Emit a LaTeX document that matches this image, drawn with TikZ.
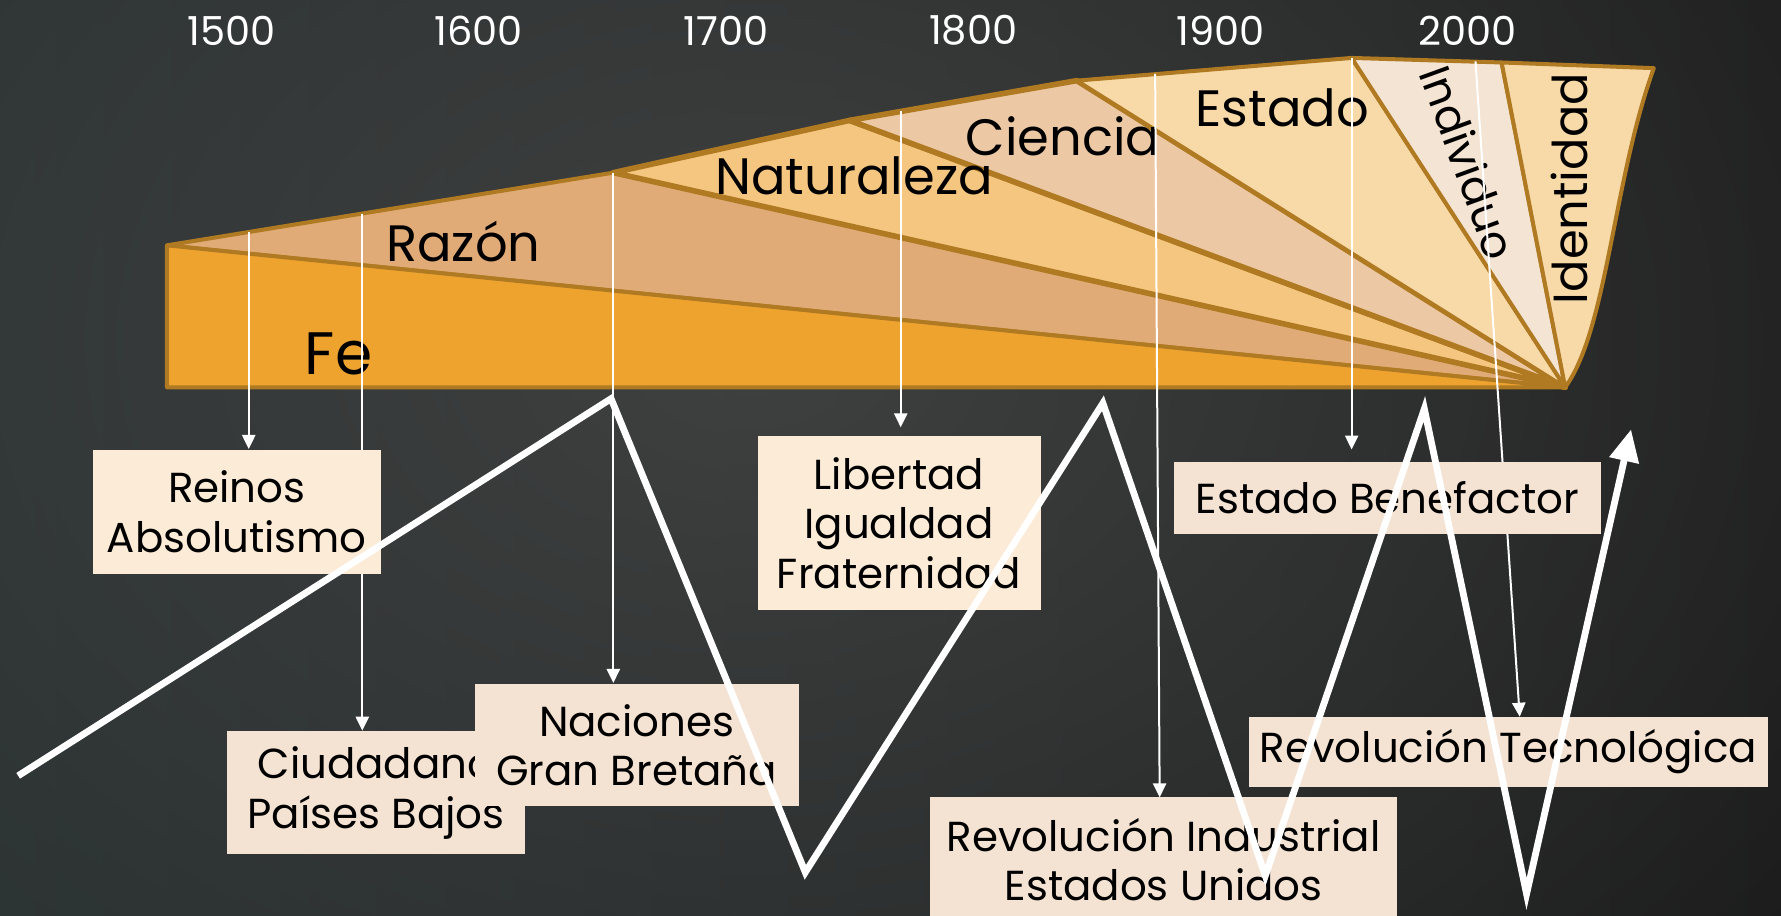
\documentclass[tikz,border=0pt]{standalone}
\usepackage{fontspec}
\setmainfont{Poppins}
\usetikzlibrary{arrows.meta,backgrounds,fadings}

\definecolor{bgleft}{HTML}{222C2C}
\definecolor{bgright}{HTML}{121212}
\definecolor{bglight}{HTML}{464646}
\definecolor{edgebrown}{HTML}{B07A22}
\definecolor{fecol}{HTML}{EFA32F}
\definecolor{razoncol}{HTML}{E1AB77}
\definecolor{natcol}{HTML}{F5C680}
\definecolor{ciencol}{HTML}{ECC9A4}
\definecolor{estcol}{HTML}{F8D9A8}
\definecolor{indcol}{HTML}{F4E4D3}
\definecolor{boxcream}{HTML}{FCEBD7}
\definecolor{boxpink}{HTML}{F4E3D3}

\tikzfading[name=glow, inner color=transparent!15, outer color=transparent!100]

\tikzset{
  band/.style={draw=edgebrown, line width=1pt, line join=round},
  bandtext/.style={inner sep=0pt, font=\fontsize{12.8}{15}\selectfont},
  yeartext/.style={inner sep=0pt, text=white, font=\fontsize{10}{12}\selectfont},
  eventbox/.style={fill=boxpink, inner sep=0pt, align=center, font=\fontsize{10.5}{12.4}\selectfont},
  pointer/.style={draw=white, line width=0.5pt, -{Triangle[length=3.5pt,width=3.3pt]}},
  trend/.style={draw=white, line width=1.7pt, -{Triangle[length=8pt,width=7.2pt]}}
}

\begin{document}
\begin{tikzpicture}[x=0.01cm, y=-0.01cm]
	\useasboundingbox (0,0) rectangle (1568,806);
	% corners of the band
	\coordinate (b0) at (147,216);
	\coordinate (b1) at (540,152);
	\coordinate (b2) at (748,106);
	\coordinate (b3) at (948,71);
	\coordinate (b4) at (1190,51);
	\coordinate (b5) at (1322,55);
	\coordinate (b6) at (1456,60);
	\coordinate (apex) at (1378,341);
	\coordinate (fbot) at (147,341);

	% boxes
	\node[eventbox, fill=boxcream, minimum width=2.53cm, minimum height=1.09cm] (reinos) at (208.5,450.5) {Reinos\\Absolutismo};
	\node[eventbox, minimum width=2.62cm, minimum height=1.08cm] (ciud) at (331,698) {Ciudadano\\Países Bajos};
	\node[eventbox, minimum width=2.85cm, minimum height=1.08cm] (nac) at (560.5,656) {Naciones\\Gran Bretaña};
	\node[eventbox, fill=boxcream, minimum width=2.49cm, minimum height=1.53cm] (lib) at (791.5,460.5) {Libertad\\Igualdad\\Fraternidad};
	\node[eventbox, minimum width=3.75cm, minimum height=0.63cm] (estben) at (1221.5,438.5) {Estado Benefactor};
	\node[eventbox, minimum width=4.56cm, minimum height=0.62cm] (tec) at (1328,662) {Revolución Tecnológica};
	\node[eventbox, minimum width=4.11cm, minimum height=1.10cm] (indus) at (1024.5,757) {Revolución Industrial\\Estados Unidos};

	% zigzag
	\draw[trend] (16,683) -- (538,351) -- (709,768) -- (971,355) -- (1114,771) -- (1254,360) -- (1344,787) -- (1436,378);

	\begin{scope}[on background layer]
		\begin{scope}
			\clip (0,0) rectangle (1568,806);
			\shade[left color=bgleft, right color=bgright] (0,0) rectangle (1568,806);
			\fill[bglight, path fading=glow] (660,300) ellipse (1500 and 1100);
		\end{scope}

		\foreach \p/\q/\c/\w in {b0/b1/razoncol/1, b1/b2/natcol/1.4, b2/b3/ciencol/1.4, b3/b4/estcol/1, b4/b5/indcol/1}
			\filldraw[band, fill=\c, line width=\w pt] (\p) -- (\q) -- (apex) -- cycle;
		\filldraw[band, fill=estcol] (b5) -- (b6) .. controls (1420,160) and (1415,290) .. (apex) -- cycle;
		\filldraw[band, fill=fecol] (b0) -- (apex) -- (fbot) -- cycle;

		\node[bandtext, font=\fontsize{15}{17}\selectfont] (fe) at (298,312) {Fe};
		\node[bandtext] (razon) at (408,213) {Razón};
		\node[bandtext] (natur) at (752,155) {Naturaleza};
		\node[bandtext] (ciencia) at (936,120) {Ciencia};
		\node[bandtext] (estado) at (1129,95) {Estado};
		\node[bandtext, font=\fontsize{11}{13}\selectfont, rotate=-70] (indiv) at (1293,143) {Individuo};
		\node[bandtext, font=\fontsize{12}{14}\selectfont, rotate=90] (ident) at (1382,166) {Identidad};

		\foreach \yr [count=\i from 0] in {1500,1600,...,2000}
			\node[yeartext] (yr\yr) at ({204+217.6*\i},27) {\yr};

		% pointers from the band
		\coordinate (t1) at (219,204);
		\coordinate (t2) at (319,188);
		\coordinate (t4) at (793,98);
		\coordinate (t5) at (1017,65);
		\coordinate (e5) at (1021,702);
		\coordinate (t7) at (1299,54);
		\coordinate (e7) at (1338,631);
		\draw[pointer] (t1) -- (t1 |- reinos.north);
		\draw[pointer] (t2) -- (t2 |- ciud.north);
		\draw[pointer] (b1) -- (b1 |- nac.north);
		\draw[pointer, shorten >=2pt] (t4) -- (t4 |- lib.north);
		\draw[pointer] (t5) -- (e5);
		\draw[pointer, shorten >=3pt] (b4) -- (b4 |- estben.north);
		\draw[pointer] (t7) -- (e7);
	\end{scope}
\end{tikzpicture}
\end{document}
